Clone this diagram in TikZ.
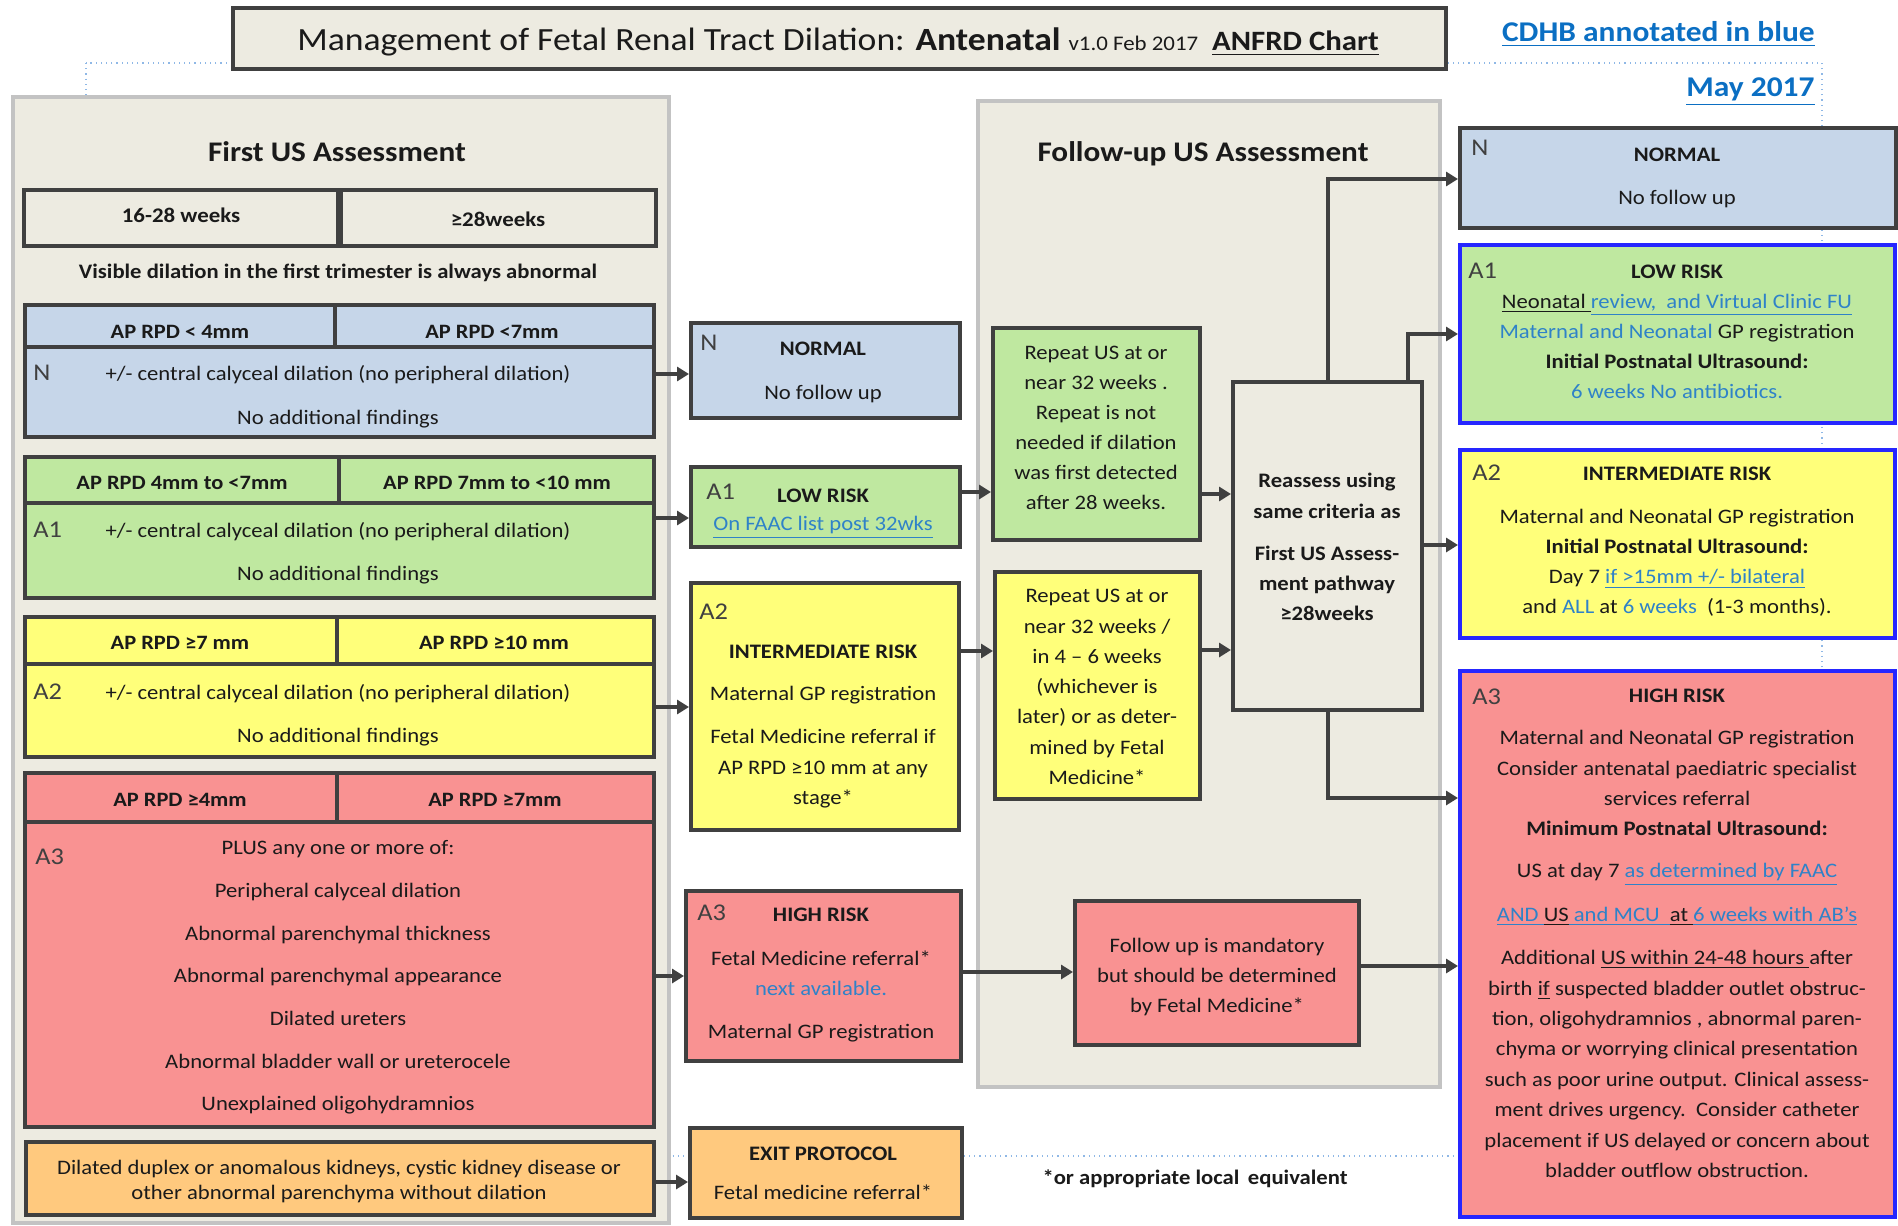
\documentclass[tikz,border=0pt]{standalone}
\usepackage{fontspec}
\setmainfont{Carlito}[FakeStretch=1.1]
\usetikzlibrary{arrows.meta,fit}

\definecolor{beige}{HTML}{EDEBE1}
\definecolor{panelline}{HTML}{C3C3C3}
\definecolor{dark}{HTML}{404040}
\definecolor{nfill}{HTML}{C6D6E9}
\definecolor{gfill}{HTML}{BFE8A0}
\definecolor{yfill}{HTML}{FFFF7A}
\definecolor{rfill}{HTML}{F99292}
\definecolor{ofill}{HTML}{FFC97E}
\definecolor{rimblue}{HTML}{2626FF}
\definecolor{annot}{HTML}{2F82C8}
\definecolor{headblue}{HTML}{0B6FC3}
\definecolor{dotblue}{HTML}{8FB8E6}
\definecolor{ink}{HTML}{1A1A1A}

\newcommand{\fsz}[1]{\fontsize{#1}{#1}\selectfont}
% a column of single-line text nodes: style, name, x, first y, line step, lines
\newcommand{\stack}[6]{\foreach \Ltxt [count=\k from 0] in {#6}{\node[#1] (#2-\k) at (#3,{#4+\k*#5}) {\Ltxt};}}

\tikzset{
  frame/.style={inner sep=0pt, draw=dark, line width=2pt},
  rimframe/.style={inner sep=0pt, draw=rimblue, line width=2pt},
  panel/.style={inner sep=0pt, draw=panelline, line width=2pt, fill=beige},
  txt/.style={inner sep=0pt, anchor=mid, yshift=-1.5pt, text=ink, font=\fsz{10.3pt}},
  btxt/.style={txt, font=\fsz{10.3pt}\bfseries},
  hdr/.style={txt, font=\fsz{10.2pt}\bfseries},
  tag/.style={inner sep=0pt, anchor=mid west, yshift=-1.5pt, text=dark, font=\fsz{12pt}},
  arr/.style={draw=dark, line width=2pt, -{Triangle[length=6pt,width=7pt]}},
  dotline/.style={draw=dotblue, line width=0.6pt, dotted},
}

\begin{document}
\begin{tikzpicture}[x=0.5pt,y=-0.5pt]
\useasboundingbox (0,0) rectangle (1898,1225);

% faint dotted outline behind everything
\draw[dotline] (86,63) rectangle (1822,1156);

% ---------- title and annotations ----------
\node[frame, fill=beige, fit={(233,8)(1446,69)}] (title) {};
\node[txt, anchor=base, yshift=0pt, font=\fsz{16.2pt}] (titletext) at (838,48)
  {Management of Fetal Renal Tract Dilation: \textbf{Antenatal} {\fsz{10.4pt}v1.0 Feb 2017}\hspace{7pt}\underline{\fsz{14pt}\bfseries ANFRD Chart}};
\node[inner sep=0pt, anchor=base east, font=\fsz{14.3pt}\bfseries, text=headblue] (cdhb) at (1815,42) {\underline{CDHB annotated in blue}};
\node[inner sep=0pt, anchor=base east, font=\fsz{14.3pt}\bfseries, text=headblue] (may) at (1815,97) {\underline{May 2017}};

% ---------- panels ----------
\node[panel, fit={(13,97)(669,1223)}] (firstpanel) {};
\node[panel, fit={(978,101)(1440,1087)}] (followpanel) {};
\node[btxt, font=\fsz{14.2pt}\bfseries] (firsthead) at (337,154) {First US Assessment};
\node[btxt, font=\fsz{14.2pt}\bfseries] (followhead) at (1203,154) {Follow-up US Assessment};

% ---------- first US assessment ----------
\node[frame, fill=beige, fit={(24,190)(338,246)}] (wk1) {};
\node[frame, fill=beige, fit={(341,190)(656,246)}] (wk2) {};
\node[hdr, font=\fsz{10.4pt}\bfseries] (wk1t) at (181,215) {16-28 weeks};
\node[hdr, font=\fsz{10.4pt}\bfseries] (wk2t) at (498,219) {≥28weeks};
\node[btxt] (visible) at (338,271) {Visible dilation in the first trimester is always abnormal};

% N group
\node[frame, fill=nfill, fit={(25,305)(335,347)}] (nh1) {};
\node[frame, fill=nfill, fit={(335,305)(654,347)}] (nh2) {};
\node[frame, fill=nfill, fit={(25,347)(654,437)}] (nb) {};
\node[hdr] (nh1t) at (180,331) {AP RPD < 4mm};
\node[hdr] (nh2t) at (492,331) {AP RPD <7mm};
\node[tag] (ntag) at (33,373) {N};
\stack{txt}{nbt}{338}{373}{44}{{+/- central calyceal dilation (no peripheral dilation)},{No additional findings}}

% A1 group
\node[frame, fill=gfill, fit={(25,457)(339,503)}] (ah1) {};
\node[frame, fill=gfill, fit={(339,457)(654,503)}] (ah2) {};
\node[frame, fill=gfill, fit={(25,503)(654,598)}] (ab) {};
\node[hdr] (ah1t) at (182,482) {AP RPD 4mm to <7mm};
\node[hdr] (ah2t) at (497,482) {AP RPD 7mm to <10 mm};
\node[tag] (atag) at (33,530) {A1};
\stack{txt}{abt}{338}{530}{43}{{+/- central calyceal dilation (no peripheral dilation)},{No additional findings}}

% A2 group
\node[frame, fill=yfill, fit={(25,617)(337,664)}] (bh1) {};
\node[frame, fill=yfill, fit={(337,617)(654,664)}] (bh2) {};
\node[frame, fill=yfill, fit={(25,664)(654,757)}] (bb) {};
\node[hdr] (bh1t) at (180,642) {AP RPD ≥7 mm};
\node[hdr] (bh2t) at (494,642) {AP RPD ≥10 mm};
\node[tag] (btag) at (33,692) {A2};
\stack{txt}{bbt}{338}{692}{43}{{+/- central calyceal dilation (no peripheral dilation)},{No additional findings}}

% A3 group
\node[frame, fill=rfill, fit={(25,773)(337,822)}] (ch1) {};
\node[frame, fill=rfill, fit={(337,773)(654,822)}] (ch2) {};
\node[frame, fill=rfill, fit={(25,822)(654,1127)}] (cb) {};
\node[hdr] (ch1t) at (180,799) {AP RPD ≥4mm};
\node[hdr] (ch2t) at (495,799) {AP RPD ≥7mm};
\node[tag] (ctag) at (35,857) {A3};
\stack{txt}{cbt}{338}{847}{42.7}{{PLUS any one or more of:},{Peripheral calyceal dilation},{Abnormal parenchymal thickness},{Abnormal parenchymal appearance},{Dilated ureters},{Abnormal bladder wall or ureterocele},{Unexplained oligohydramnios}}

% other findings
\node[frame, fill=ofill, fit={(26,1142)(654,1215)}] (ob) {};
\stack{txt}{obt}{339}{1167}{25}{{Dilated duplex or anomalous kidneys, cystic kidney disease or},{other abnormal parenchyma without dilation}}

% ---------- middle column ----------
\node[frame, fill=nfill, fit={(691,323)(960,418)}] (mN) {};
\node[tag] (mNtag) at (700,343) {N};
\node[btxt] (mNt1) at (823,348) {NORMAL};
\node[txt] (mNt2) at (823,392) {No follow up};

\node[frame, fill=gfill, fit={(691,467)(960,547)}] (mA) {};
\node[tag] (mAtag) at (706,492) {A1};
\node[btxt] (mAt1) at (823,495) {LOW RISK};
\node[txt, text=annot] (mAt2) at (823,523) {\underline{On FAAC list post 32wks}};

\node[frame, fill=yfill, fit={(691,583)(959,830)}] (mB) {};
\node[tag] (mBtag) at (699,612) {A2};
\node[btxt] (mBt0) at (823,651) {INTERMEDIATE RISK};
\node[txt] (mBt1) at (823,693) {Maternal GP registration};
\stack{txt}{mBm}{823}{736}{30.5}{{Fetal Medicine referral if},{AP RPD ≥10 mm at any},{stage*}}

\node[frame, fill=rfill, fit={(686,891)(961,1061)}] (mC) {};
\node[tag] (mCtag) at (697,913) {A3};
\node[btxt] (mCt1) at (821,914) {HIGH RISK};
\stack{txt}{mCt}{821}{958}{30}{{Fetal Medicine referral*},{\textcolor{annot}{next available.}}}
\node[txt] (mCt4) at (821,1031) {Maternal GP registration};

\node[frame, fill=ofill, fit={(690,1128)(962,1218)}] (mX) {};
\node[btxt] (mXt1) at (823,1153) {EXIT PROTOCOL};
\node[txt] (mXt2) at (823,1192) {Fetal medicine referral*};

\node[btxt] (footnote) at (1195,1177) {*or appropriate local\, equivalent};

% ---------- follow-up column ----------
\node[frame, fill=gfill, fit={(993,328)(1200,540)}] (fG) {};
\stack{txt}{fGt}{1096}{352}{30}{{Repeat US at or},{near 32 weeks .},{Repeat is not},{needed if dilation},{was first detected},{after 28 weeks.}}

\node[frame, fill=yfill, fit={(995,572)(1200,799)}] (fY) {};
\stack{txt}{fYt}{1097}{595}{30.3}{{Repeat US at or},{near 32 weeks /},{in 4 – 6 weeks},{(whichever is},{later) or as deter-},{mined by Fetal},{Medicine*}}

\node[frame, fill=beige, fit={(1233,382)(1422,710)}] (fRe) {};
\stack{btxt}{fRa}{1327}{480}{31}{{Reassess using},{same criteria as}}
\stack{btxt}{fRb}{1327}{553}{30}{{First US Assess-},{ment pathway},{≥28weeks}}

\node[frame, fill=rfill, fit={(1075,901)(1359,1045)}] (fR) {};
\stack{txt}{fRt}{1217}{945}{30}{{Follow up is mandatory},{but should be determined},{by Fetal Medicine*}}

% ---------- right column ----------
\node[frame, fill=nfill, fit={(1460,128)(1896,228)}] (rN) {};
\node[tag] (rNtag) at (1471,148) {N};
\node[btxt] (rNt1) at (1677,154) {NORMAL};
\node[txt] (rNt2) at (1677,197) {No follow up};

\node[rimframe, fill=gfill, fit={(1460,245)(1895,423)}] (rA) {};
\node[tag] (rAtag) at (1468,271) {A1};
\node[btxt] (rAt0) at (1677,271) {LOW RISK};
\stack{txt}{rAt}{1677}{301}{30}{{\underline{Neonatal }\textcolor{annot}{\underline{review,\ \ and Virtual Clinic FU}}},{\textcolor{annot}{Maternal and Neonatal} GP registration},{\textbf{Initial Postnatal Ultrasound:}},{\textcolor{annot}{6 weeks No antibiotics.}}}

\node[rimframe, fill=yfill, fit={(1460,450)(1895,638)}] (rB) {};
\node[tag] (rBtag) at (1472,473) {A2};
\node[btxt] (rBt0) at (1677,473) {INTERMEDIATE RISK};
\stack{txt}{rBt}{1677}{516}{30}{{Maternal and Neonatal GP registration},{\textbf{Initial Postnatal Ultrasound:}},{Day 7 \textcolor{annot}{\underline{if >15mm +/- bilateral}}},{and \textcolor{annot}{ALL} at \textcolor{annot}{6 weeks}\ \ (1-3 months).}}

\node[rimframe, fill=rfill, fit={(1460,671)(1895,1217)}] (rC) {};
\node[tag] (rCtag) at (1472,697) {A3};
\node[btxt] (rCt0) at (1677,695) {HIGH RISK};
\stack{txt}{rCa}{1677}{737}{30.3}{{Maternal and Neonatal GP registration},{Consider antenatal paediatric specialist},{services referral},{\textbf{Minimum Postnatal Ultrasound:}}}
\node[txt] (rCb) at (1677,870) {US at day 7 \textcolor{annot}{\underline{as determined by FAAC}}};
\node[txt] (rCc) at (1677,914) {\textcolor{annot}{\underline{AND }}\underline{US}\textcolor{annot}{\underline{ and MCU\ \ }}\underline{at }\textcolor{annot}{\underline{6\ weeks with AB’s}}};
\stack{txt}{rCd}{1677}{957}{30.4}{{Additional \underline{US within 24-48 hours }after},{birth \underline{if} suspected bladder outlet obstruc-},{tion, oligohydramnios , abnormal paren-},{chyma or worrying clinical presentation},{such as poor urine output. Clinical assess-},{ment drives urgency.\ \ Consider catheter},{placement if US delayed or concern about},{bladder outflow obstruction.}}

% ---------- connectors ----------
\draw[arr] (nb.east |- 0,374) -- (mN.west |- 0,374);
\draw[arr] (ab.east |- 0,518) -- (mA.west |- 0,518);
\draw[arr] (bb.east |- 0,707) -- (mB.west |- 0,707);
\draw[arr] (cb.east |- 0,976) -- (mC.west |- 0,976);
\draw[arr] (ob.east |- 0,1182) -- (mX.west |- 0,1182);

\draw[arr] (mA.east |- 0,492) -- (fG.west |- 0,492);
\draw[arr] (mB.east |- 0,651) -- (fY.west |- 0,651);
\draw[arr] (mC.east |- 0,972) -- (fR.west |- 0,972);

\draw[arr] (fG.east |- 0,494) -- (fRe.west |- 0,494);
\draw[arr] (fY.east |- 0,650) -- (fRe.west |- 0,650);

\draw[arr] (fRe.north -| 1328,0) -- (1328,179) -- (rN.west |- 0,179);
\draw[arr] (fRe.north -| 1408,0) -- (1408,334) -- (rA.west |- 0,334);
\draw[arr] (fRe.east |- 0,545) -- (rB.west |- 0,545);
\draw[arr] (fRe.south -| 1328,0) -- (1328,798) -- (rC.west |- 0,798);
\draw[arr] (fR.east |- 0,966) -- (rC.west |- 0,966);
\end{tikzpicture}
\end{document}
